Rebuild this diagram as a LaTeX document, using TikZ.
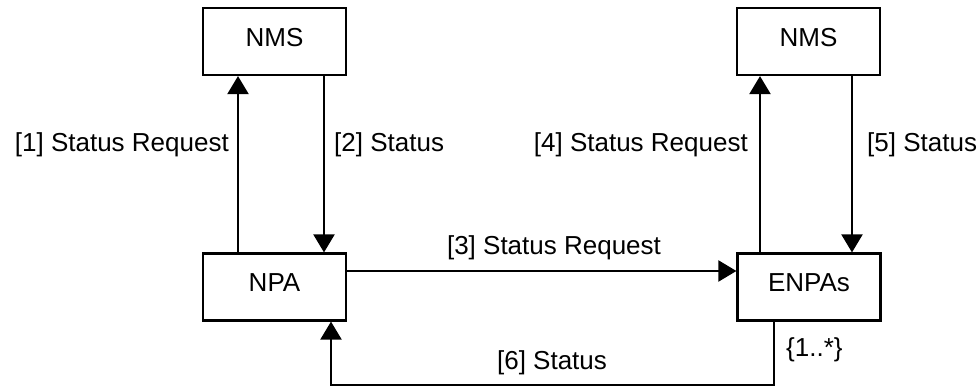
\documentclass[tikz,border=0pt]{standalone}
\usepackage{fontspec}
\setmainfont{Liberation Sans}
\usetikzlibrary{arrows.meta}
\begin{document}
\begin{tikzpicture}[x=1pt,y=-1pt,
  box/.style={draw,line width=2.2pt,minimum width=143pt,minimum height=67pt,inner sep=0pt,font=\fontsize{26}{30}\selectfont},
  lbl/.style={inner sep=0pt,font=\fontsize{26}{30}\selectfont},
  conn/.style={line width=2.2pt},
  arr/.style={conn,-{Triangle[length=18pt,width=21pt]}}]
\useasboundingbox (0,0) rectangle (979,386);
\node[box] (nms1) at (274.5,41.5) {\raisebox{8pt}{NMS}};
\node[box] (nms2) at (808.5,41.5) {\raisebox{8pt}{NMS}};
\node[box] (npa) at (274.5,287) {\raisebox{8pt}{NPA}};
\node[box] (enpa) at (809,287) {\raisebox{8pt}{ENPAs}};
\draw[arr] (npa.north -| 238,0) -- (nms1.south -| 238,0);
\draw[arr] (nms1.south -| 324,0) -- (npa.north -| 324,0);
\draw[arr] (enpa.north -| 760,0) -- (nms2.south -| 760,0);
\draw[arr] (nms2.south -| 852,0) -- (enpa.north -| 852,0);
\draw[arr] (npa.east |- 0,271) -- (enpa.west |- 0,271);
\coordinate (c1) at (774,385);
\coordinate (c2) at (331,385);
\draw[arr] (enpa.south -| c1) -- (c1) -- (c2) -- (npa.south -| c2);
\node[lbl,anchor=east] (l1) at (229,145) {[1] Status Request};
\node[lbl,anchor=west] (l2) at (334,145) {[2] Status};
\node[lbl,anchor=east] (l4) at (748,145) {[4] Status Request};
\node[lbl,anchor=west] (l5) at (867,145) {[5] Status};
\node[lbl] (l3) at (554,248) {[3] Status Request};
\node[lbl] (l6) at (552,363) {[6] Status};
\node[lbl,anchor=west] (l7) at (786,350) {\{1..*\}};
\end{tikzpicture}
\end{document}
